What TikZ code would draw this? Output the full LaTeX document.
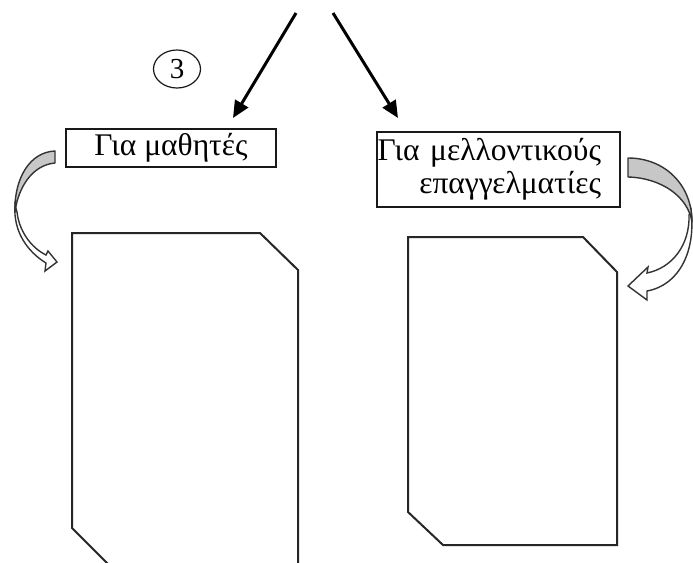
\documentclass[tikz,border=0pt]{standalone}
\usepackage{fontspec}
\setmainfont{Liberation Serif}
\usetikzlibrary{arrows.meta,shapes.geometric}
\begin{document}
\begin{tikzpicture}[x=1pt,y=-1pt,
  lbl/.style={draw=black!90, line width=1.6pt, font=\fontsize{31.5}{33}\selectfont, inner sep=0pt},
  numcirc/.style={ellipse, draw=black!90, line width=1.2pt, inner sep=0pt, minimum width=47pt, minimum height=38pt, font=\fontsize{29}{33}\selectfont},
  docshape/.style={draw=black!85, line width=2pt, line join=miter},
  backface/.style={draw=black!80, line width=1.4pt, fill=black!22, line join=round},
  frontface/.style={draw=black!80, line width=1.4pt, fill=white, line join=miter},
  bigarrow/.style={line width=3pt, -{Triangle[length=17pt,width=15pt]}}
]
\useasboundingbox (0,0) rectangle (693,562);
\clip (0,0) rectangle (693,562);
\fill[white] (0,0) rectangle (693,562);

% circled number
\node[numcirc] (num) at (177,69) {3};

% label boxes
\node[lbl, minimum width=210pt, minimum height=38pt] (b1) at (171,148) {Για μαθητές};
\node[lbl, minimum width=243pt, minimum height=75pt, text width=243pt, align=right] (b2) at (498.5,169.5)
  {\mbox{Για μελλοντικούς}\kern19pt\\\mbox{επαγγελματίες}\kern19pt};

% top arrows
\coordinate (s1) at (296,13);
\coordinate (t1) at (233,118);
\coordinate (s2) at (333,13);
\coordinate (t2) at (398,118);
\draw[bigarrow] (s1) -- (t1);
\draw[bigarrow] (s2) -- (t2);

% document shapes
\draw[docshape] (72,233) -- (260,233) -- (298,270) -- (298,564) -- (108,564) -- (72,528) -- cycle;
\draw[docshape] (408,237) -- (583,237) -- (617,272) -- (617,545) -- (443,545) -- (408,512) -- cycle;

% left curved arrow
\draw[frontface] (15,205) .. controls (13,232) and (28,252) .. (46,263) -- (45,271) -- (57,262)
  -- (48,251) -- (46,255) .. controls (30,247) and (19,230) .. (17,212) -- cycle;
\draw[backface] (55,151) .. controls (30,152) and (14,178) .. (15,212)
  .. controls (18,188) and (32,165) .. (55,163) -- cycle;

% right curved arrow
\draw[frontface] (691,210) .. controls (696,250) and (680,285) .. (647,291) -- (647,300) -- (628,286)
  -- (648,267) -- (647,273) .. controls (672,268) and (690,245) .. (689,215) -- cycle;
\draw[backface] (628,158) .. controls (665,158) and (692,185) .. (692,222)
  .. controls (688,197) and (662,178) .. (628,177) -- cycle;
\end{tikzpicture}
\end{document}
